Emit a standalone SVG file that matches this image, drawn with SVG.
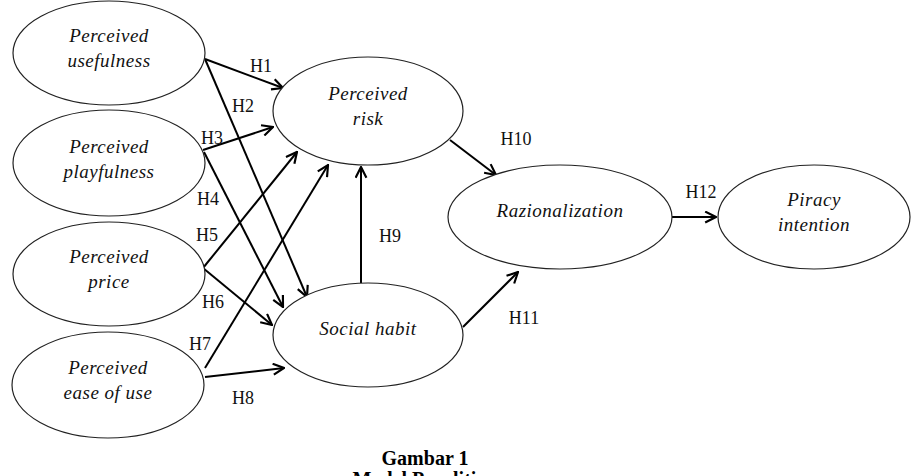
<svg xmlns="http://www.w3.org/2000/svg" width="913" height="476" viewBox="0 0 913 476">
<defs>
<style>
.node ellipse{fill:#fff;stroke:#222;stroke-width:1.2}
.node text{font-family:"Liberation Serif","Times New Roman",serif;font-style:italic;font-size:19px;letter-spacing:0.5px;fill:#111;text-anchor:middle}
.conn line{stroke:#000;stroke-width:2;marker-end:url(#arr)}
.lbl{font-family:"Liberation Serif","Times New Roman",serif;font-size:18px;fill:#111;text-anchor:middle}
.cap{font-family:"Liberation Serif","Times New Roman",serif;font-weight:bold;font-size:20px;fill:#000;text-anchor:middle}
</style>
<marker id="arr" viewBox="0 0 12 12" refX="11" refY="6" markerWidth="13" markerHeight="13" markerUnits="userSpaceOnUse" orient="auto">
<path d="M1,1 L11,6 L1,11" fill="none" stroke="#000" stroke-width="2"/>
</marker>
</defs>
<rect width="913" height="476" fill="#fff"/>
<g id="connectors" class="conn">
<line x1="205" y1="59" x2="283" y2="88"/>
<line x1="205" y1="59" x2="307" y2="297"/>
<line x1="203" y1="150" x2="273" y2="127"/>
<line x1="204" y1="152" x2="283" y2="307"/>
<line x1="203" y1="268" x2="297" y2="152"/>
<line x1="203" y1="268" x2="272" y2="325"/>
<line x1="205" y1="368" x2="328" y2="165"/>
<line x1="205" y1="377" x2="284" y2="368"/>
<line x1="361" y1="283" x2="361" y2="167"/>
<line x1="450" y1="140" x2="496" y2="175"/>
<line x1="463" y1="327" x2="518" y2="272"/>
<line x1="672" y1="217" x2="716" y2="217"/>
</g>
<g id="labels">
<text class="lbl" x="261" y="72">H1</text>
<text class="lbl" x="243" y="112">H2</text>
<text class="lbl" x="212" y="144">H3</text>
<text class="lbl" x="208" y="205">H4</text>
<text class="lbl" x="207" y="241">H5</text>
<text class="lbl" x="213" y="308">H6</text>
<text class="lbl" x="200" y="350">H7</text>
<text class="lbl" x="243" y="404">H8</text>
<text class="lbl" x="390" y="242">H9</text>
<text class="lbl" x="516" y="145">H10</text>
<text class="lbl" x="524" y="324">H11</text>
<text class="lbl" x="701" y="198">H12</text>
</g>
<g id="usefulness" class="node">
<ellipse cx="109" cy="53" rx="96" ry="52"/>
<text x="109" y="42">Perceived</text>
<text x="109" y="67">usefulness</text>
</g>
<g id="playfulness" class="node">
<ellipse cx="109" cy="163" rx="96" ry="53"/>
<text x="109" y="153">Perceived</text>
<text x="109" y="178">playfulness</text>
</g>
<g id="price" class="node">
<ellipse cx="109" cy="274" rx="96" ry="52"/>
<text x="109" y="263">Perceived</text>
<text x="109" y="288">price</text>
</g>
<g id="easeofuse" class="node">
<ellipse cx="108" cy="385" rx="96" ry="53"/>
<text x="108" y="374">Perceived</text>
<text x="108" y="399">ease of use</text>
</g>
<g id="risk" class="node">
<ellipse cx="368" cy="111" rx="95" ry="54"/>
<text x="368" y="100">Perceived</text>
<text x="368" y="125">risk</text>
</g>
<g id="socialhabit" class="node">
<ellipse cx="368" cy="335" rx="95" ry="52"/>
<text x="368" y="335">Social habit</text>
</g>
<g id="razionalization" class="node">
<ellipse cx="560" cy="217" rx="112" ry="52"/>
<text x="560" y="217">Razionalization</text>
</g>
<g id="piracy" class="node">
<ellipse cx="814" cy="217" rx="96" ry="52"/>
<text x="814" y="206">Piracy</text>
<text x="814" y="231">intention</text>
</g>
<g id="caption">
<text class="cap" x="425" y="465">Gambar 1</text>
<text class="cap" x="425" y="486">Model Penelitian</text>
</g>
</svg>
